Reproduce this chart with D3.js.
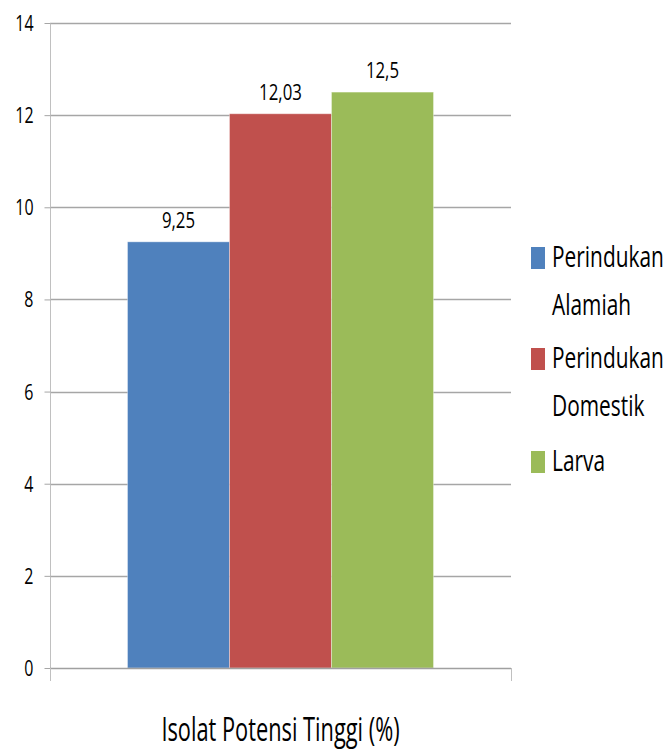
<!DOCTYPE html>
<html>
<head>
<meta charset="utf-8">
<script src="https://cdn.jsdelivr.net/npm/d3@7"></script>
<style>
  html, body { margin: 0; padding: 0; background: #fff; }
  svg { display: block; }
  text { font-family: "Open Sans", "Noto Sans", sans-serif; fill: #000; }
</style>
</head>
<body>
<svg id="chart" width="669" height="749"></svg>
<script>
// ---- data ----
const categories = ["Isolat Potensi Tinggi (%)"];
const seriesNames = ["Perindukan Alamiah", "Perindukan Domestik", "Larva"];
const seriesLegendLines = [["Perindukan", "Alamiah"], ["Perindukan", "Domestik"], ["Larva"]];
const seriesValues = [9.25, 12.03, 12.5];
const valueLabels = ["9,25", "12,03", "12,5"];
const yTicks = [0, 2, 4, 6, 8, 10, 12, 14];
const seriesColors = ["#4F81BD", "#C0504D", "#9BBB59"];

// ---- layout ----
const svg = d3.select("#chart");
const plot = { left: 50, right: 511, top: 23, bottom: 668 };

function condense(sel, k) {
  sel.each(function () {
    const w = this.getComputedTextLength();
    d3.select(this).attr("textLength", w * k).attr("lengthAdjust", "spacingAndGlyphs");
  });
}

const y = d3.scaleLinear().domain([0, 14]).range([plot.bottom, plot.top]);
const x0 = d3.scaleBand().domain(categories).range([plot.left, plot.right]);
const x1 = d3.scaleBand().domain(seriesNames).range([x0(categories[0]), x0(categories[0]) + x0.bandwidth()])
  .paddingInner(0).paddingOuter(0.76);

// gridlines
svg.append("g").selectAll("line").data(yTicks.filter(d => d > 0)).join("line")
  .attr("x1", plot.left).attr("x2", plot.right)
  .attr("y1", d => Math.round(y(d)) + 0.5).attr("y2", d => Math.round(y(d)) + 0.5)
  .attr("stroke", "#a6a6a6").attr("stroke-width", 1.3);

// y axis
const yAxis = d3.axisLeft(y).tickValues(yTicks).tickSize(6).tickPadding(11).tickFormat(d3.format("d"));
const gy = svg.append("g").attr("transform", `translate(${plot.left + 0.5},0)`).call(yAxis);
gy.select(".domain").attr("stroke", "#c0c0c0").attr("d", `M0,${plot.top}V${plot.bottom + 13}`);
gy.selectAll(".tick line").attr("stroke", "#a6a6a6");
gy.selectAll(".tick text").attr("font-size", 21).attr("dy", "0.36em")
  .style("font-family", '"Open Sans", sans-serif').attr("fill", "#000")
  .call(condense, 0.76);

// bars
svg.append("g").selectAll("rect").data(seriesNames).join("rect")
  .attr("x", d => x1(d))
  .attr("width", x1.bandwidth())
  .attr("y", (d, i) => y(seriesValues[i]))
  .attr("height", (d, i) => y(0) - y(seriesValues[i]))
  .attr("fill", (d, i) => seriesColors[i])
  .attr("stroke", "rgba(255,255,255,0.35)").attr("stroke-width", 1);

// x axis
const gx = svg.append("g");
gx.append("line").attr("x1", plot.left).attr("x2", plot.right)
  .attr("y1", plot.bottom + 0.5).attr("y2", plot.bottom + 0.5)
  .attr("stroke", "#a0a0a0").attr("stroke-width", 1.3);
gx.selectAll("line.xt").data([plot.left, plot.right]).join("line").attr("class", "xt")
  .attr("x1", d => d + 0.5).attr("x2", d => d + 0.5)
  .attr("y1", plot.bottom).attr("y2", plot.bottom + 13)
  .attr("stroke", "#c0c0c0");

// value labels
svg.append("g").selectAll("text").data(seriesNames).join("text")
  .attr("x", d => x1(d) + x1.bandwidth() / 2)
  .attr("y", (d, i) => y(seriesValues[i]) - 14)
  .attr("text-anchor", "middle").attr("font-size", 21)
  .text((d, i) => valueLabels[i])
  .call(condense, 0.8);

// axis title
svg.append("text")
  .attr("x", x0(categories[0]) + x0.bandwidth() / 2).attr("y", 741)
  .attr("text-anchor", "middle").attr("font-size", 33)
  .text(categories[0])
  .call(condense, 0.66);

// legend
const legendTop = [247, 348, 451];
const lg = svg.append("g");
seriesNames.forEach((s, i) => {
  lg.append("rect").attr("x", 531).attr("y", legendTop[i]).attr("width", 14).attr("height", 22)
    .attr("fill", seriesColors[i]);
  seriesLegendLines[i].forEach((line, j) => {
    lg.append("text").attr("x", 552).attr("y", legendTop[i] + 20 + j * 48)
      .attr("font-size", 29).text(line).call(condense, 0.72);
  });
});
</script>
</body>
</html>
